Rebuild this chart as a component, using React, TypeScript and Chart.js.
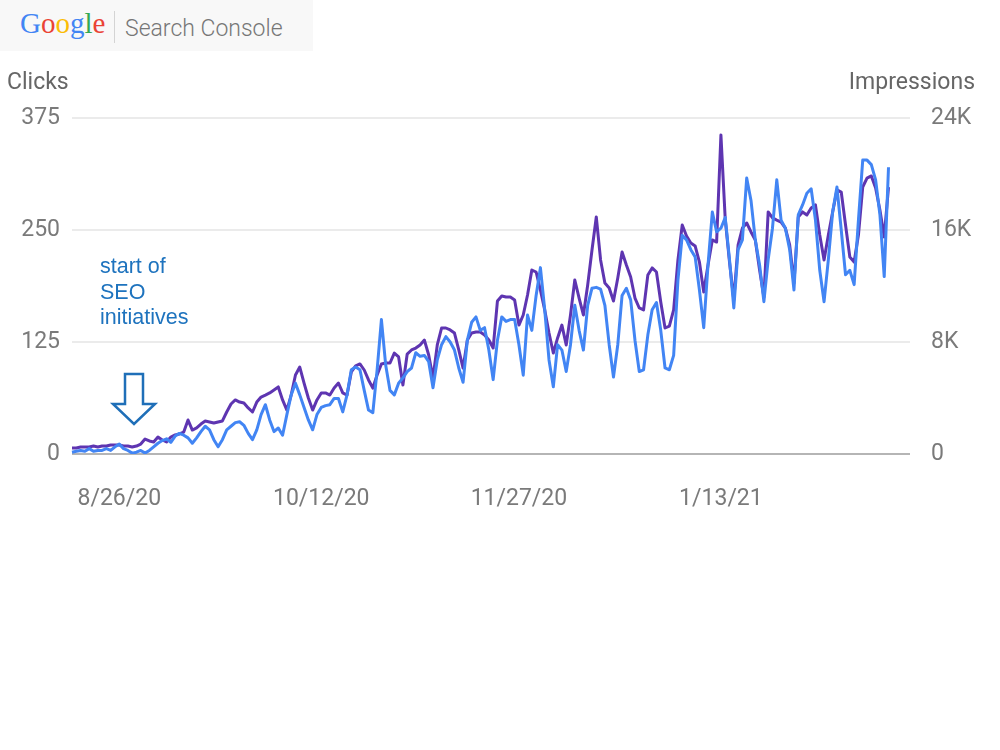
import React, { useEffect, useRef } from 'react';
import { Chart, registerables } from 'chart.js';

Chart.register(...registerables);

// Daily values from 8/15/20 to 2/21/21
const clicks: number[] = [
  2, 3, 4, 3, 6, 3, 4, 4, 6, 4,
  8, 11, 6, 4, 1, 2, 4, 1, 4, 8,
  12, 15, 17, 13, 20, 23, 21, 18, 12, 18,
  25, 31, 27, 16, 8, 16, 27, 31, 35, 36,
  32, 23, 16, 27, 44, 55, 38, 25, 29, 21,
  44, 66, 79, 66, 52, 38, 27, 44, 52, 54,
  55, 62, 62, 47, 66, 94, 97, 94, 71, 49,
  46, 94, 150, 99, 71, 66, 79, 85, 92, 96,
  113, 109, 110, 103, 74, 105, 122, 131, 125, 116,
  96, 80, 127, 147, 153, 138, 141, 116, 83, 127,
  153, 148, 150, 150, 122, 88, 155, 138, 177, 208,
  161, 105, 75, 122, 116, 92, 122, 166, 138, 116,
  166, 185, 186, 184, 166, 122, 86, 122, 177, 185,
  172, 127, 92, 94, 133, 161, 169, 138, 96, 94,
  110, 194, 244, 239, 228, 220, 183, 141, 211, 270,
  248, 252, 264, 217, 163, 228, 239, 308, 283, 239,
  211, 170, 217, 252, 306, 261, 252, 228, 183, 267,
  278, 291, 296, 261, 205, 170, 217, 270, 298, 250,
  200, 205, 189, 261, 328, 328, 323, 306, 267, 198,
  320,
];

const impressions: number[] = [
  430, 430, 500, 500, 500, 570, 500, 570, 570, 640,
  640, 640, 570, 570, 500, 570, 710, 1070, 930, 860,
  1210, 1000, 860, 1210, 1360, 1430, 1570, 2430, 1710, 1860,
  2140, 2360, 2290, 2210, 2290, 2360, 3000, 3570, 3860, 3710,
  3640, 3290, 3000, 3710, 4070, 4210, 4360, 4570, 4790, 3860,
  3140, 4210, 5640, 6210, 5070, 4000, 3140, 3860, 4360, 4360,
  4210, 4710, 5070, 4360, 4210, 5860, 6290, 6430, 6000, 5290,
  4710, 5640, 6430, 6500, 6500, 7210, 6930, 4930, 7140, 7430,
  7570, 7790, 8140, 7070, 5430, 7790, 9000, 9000, 8860, 8640,
  7430, 6140, 8140, 8640, 8710, 8710, 8500, 8140, 7570, 10930,
  11290, 11210, 11210, 11000, 9210, 9930, 11360, 13140, 13000, 11710,
  10290, 8640, 7210, 8290, 9210, 7790, 9930, 12430, 11140, 9930,
  12070, 14570, 16930, 13860, 12210, 11860, 10930, 12570, 14430, 13500,
  12640, 11140, 10430, 10290, 12790, 13290, 13000, 10860, 9000, 9140,
  10290, 13860, 16360, 15570, 15070, 14860, 13710, 11570, 13500, 15290,
  15140, 22790, 16790, 13710, 11000, 14930, 16140, 16500, 15860, 15290,
  13140, 11210, 17290, 16860, 16710, 16570, 16140, 14930, 12210, 16930,
  17290, 17070, 17570, 17790, 15640, 13860, 15640, 17290, 18860, 18710,
  16360, 14070, 13710, 15640, 19070, 19710, 19860, 19000, 17430, 15500,
  19070,
];

const xTickLabels: string[] = ['8/26/20', '10/12/20', '11/27/20', '1/13/21'];
const clicksTicks: number[] = [0, 125, 250, 375];
const impressionsTicks: number[] = [0, 8000, 16000, 24000];

const EXTRA_DAYS = 5;
const dateLabels: string[] = [];
for (let i = 0; i < clicks.length + EXTRA_DAYS; i++) {
  const d = new Date(2020, 7, 15 + i);
  dateLabels.push(`${d.getMonth() + 1}/${d.getDate()}/${String(d.getFullYear()).slice(2)}`);
}

export default function App() {
  const ref = useRef<HTMLCanvasElement>(null);

  useEffect(() => {
    if (!ref.current) return;
    const tickFont = { family: 'Roboto', size: 23 };
    const chart = new Chart(ref.current, {
      type: 'line',
      data: {
        labels: dateLabels,
        datasets: [
          {
            label: 'Clicks',
            data: clicks,
            yAxisID: 'yClicks',
            borderColor: '#4285f4',
            borderWidth: 3,
            pointRadius: 0,
            tension: 0,
            borderJoinStyle: 'round',
            fill: false,
          },
          {
            label: 'Impressions',
            data: impressions,
            yAxisID: 'yImpr',
            borderColor: '#5e35b1',
            borderWidth: 3,
            pointRadius: 0,
            tension: 0,
            borderJoinStyle: 'round',
            fill: false,
          },
        ],
      },
      options: {
        responsive: false,
        devicePixelRatio: 1,
        animation: false,
        layout: { padding: { top: 118, left: 0, right: 0, bottom: 0 } },
        plugins: { legend: { display: false }, tooltip: { enabled: false } },
        scales: {
          x: {
            type: 'category',
            offset: false,
            grid: { display: false },
            border: { display: false },
            ticks: {
              autoSkip: false,
              maxRotation: 0,
              minRotation: 0,
              padding: 23,
              color: '#7a7a7a',
              font: tickFont,
              callback: function (this: any, value: any) {
                const lab = this.getLabelForValue(value);
                return xTickLabels.includes(lab) ? lab : null;
              },
            },
            afterFit: (s: any) => {
              s.height = 750 - 454;
            },
          },
          yClicks: {
            type: 'linear',
            position: 'left',
            min: 0,
            max: 375,
            afterBuildTicks: (s: any) => {
              s.ticks = clicksTicks.map((v) => ({ value: v }));
            },
            grid: {
              drawTicks: false,
              lineWidth: 2,
              color: (c: any) => (c.tick && c.tick.value === 0 ? '#b5b5b5' : '#ebebeb'),
            },
            border: { display: false },
            ticks: { padding: 12, color: '#7a7a7a', font: tickFont },
            afterFit: (s: any) => {
              s.width = 72;
            },
          },
          yImpr: {
            type: 'linear',
            position: 'right',
            min: 0,
            max: 24000,
            afterBuildTicks: (s: any) => {
              s.ticks = impressionsTicks.map((v) => ({ value: v }));
            },
            grid: { display: false, drawOnChartArea: false },
            border: { display: false },
            ticks: {
              padding: 13,
              color: '#7a7a7a',
              font: tickFont,
              callback: (v: any) => (Number(v) === 0 ? '0' : Number(v) / 1000 + 'K'),
            },
            afterFit: (s: any) => {
              s.width = 90;
            },
          },
        },
      },
    });
    return () => chart.destroy();
  }, []);

  const googleLetters: [string, string][] = [
    ['G', '#4285f4'],
    ['o', '#ea4335'],
    ['o', '#fbbc05'],
    ['g', '#4285f4'],
    ['l', '#34a853'],
    ['e', '#ea4335'],
  ];

  return (
    <div style={{ position: 'absolute', left: 0, top: 0, width: 1000, height: 750, background: '#ffffff', overflow: 'hidden' }}>
      <canvas ref={ref} width={1000} height={750} style={{ position: 'absolute', left: 0, top: 0, width: 1000, height: 750 }} />
      <div style={{ position: 'absolute', left: 0, top: 0, width: 313, height: 51, background: '#f8f8f8' }}>
        <div style={{ position: 'absolute', left: 20, top: 9, fontFamily: '"Liberation Serif", "DejaVu Serif", serif', fontSize: 29, lineHeight: '29px', whiteSpace: 'nowrap' }}>
          {googleLetters.map(([ch, col], i) => (
            <span key={i} style={{ color: col }}>{ch}</span>
          ))}
        </div>
        <div style={{ position: 'absolute', left: 114, top: 11, width: 1, height: 32, background: '#d4d4d4' }} />
        <div style={{ position: 'absolute', left: 125, top: 16.5, fontFamily: 'Roboto, sans-serif', fontWeight: 300, fontSize: 23, lineHeight: '23px', color: '#767676', whiteSpace: 'nowrap' }}>
          Search Console
        </div>
      </div>
      <div style={{ position: 'absolute', left: 7, top: 70, fontFamily: 'Roboto, sans-serif', fontSize: 23, lineHeight: '23px', color: '#666666', whiteSpace: 'nowrap' }}>
        Clicks
      </div>
      <div style={{ position: 'absolute', right: 25, top: 70, fontFamily: 'Roboto, sans-serif', fontSize: 23, lineHeight: '23px', color: '#666666', whiteSpace: 'nowrap' }}>
        Impressions
      </div>
      <div style={{ position: 'absolute', left: 100, top: 254, fontFamily: '"Liberation Sans", Arial, sans-serif', fontSize: 21.5, lineHeight: '25.5px', color: '#1e73be' }}>
        <div>start of</div>
        <div>SEO</div>
        <div>initiatives</div>
      </div>
      <svg width={1000} height={750} style={{ position: 'absolute', left: 0, top: 0, pointerEvents: 'none' }}>
        <polygon
          points="125,374 143,374 143,404 155,404 134,424 113,404 125,404"
          fill="none"
          stroke="#1f6fb8"
          strokeWidth={2.5}
          strokeLinejoin="miter"
        />
      </svg>
    </div>
  );
}
